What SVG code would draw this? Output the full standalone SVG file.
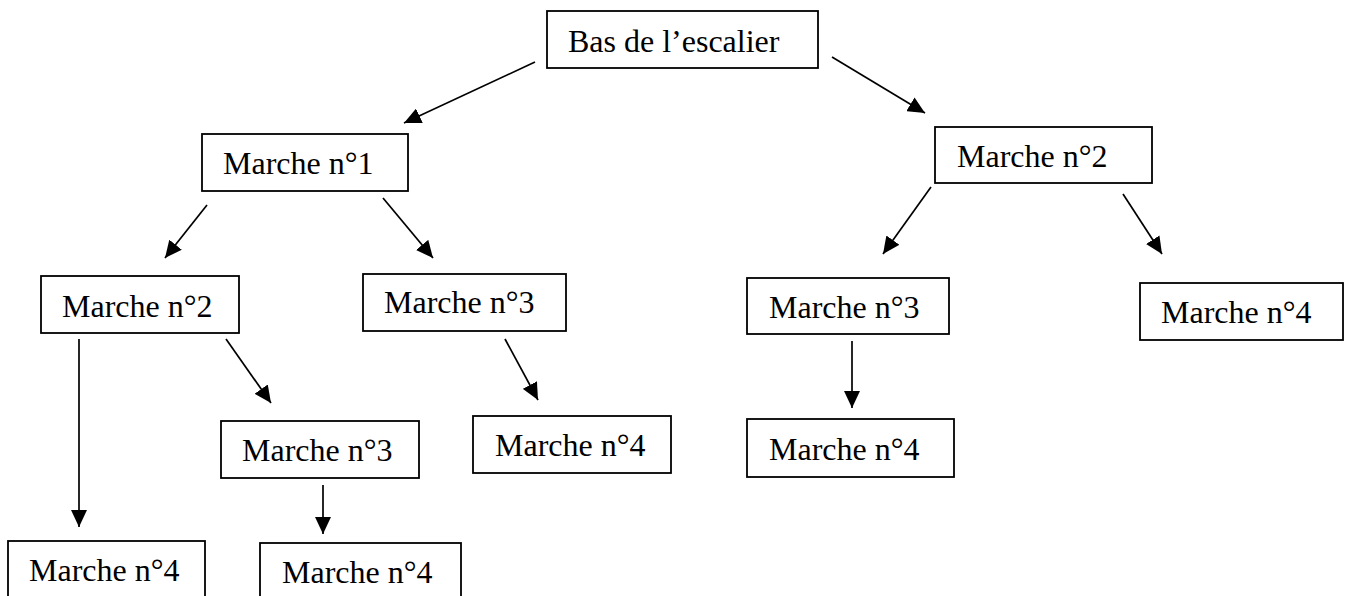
<svg xmlns="http://www.w3.org/2000/svg" width="1350" height="596" viewBox="0 0 1350 596">
<style>
.box{fill:#fff;stroke:#000;stroke-width:1.8}
.lbl{font-family:"Liberation Serif","Times New Roman",serif;font-size:32px;fill:#000}
.con{stroke:#000;stroke-width:1.7;fill:none;marker-end:url(#ah)}
</style>
<defs>
<marker id="ah" markerUnits="userSpaceOnUse" markerWidth="17" markerHeight="16" refX="17" refY="8" orient="auto">
<path d="M0,0 L17,8 L0,16 z" fill="#000"/>
</marker>
</defs>
<rect width="1350" height="596" fill="#fff"/>
<g id="connectors">
<line class="con" x1="535" y1="62" x2="404" y2="123"/>
<line class="con" x1="832" y1="57" x2="925" y2="113"/>
<line class="con" x1="207" y1="205" x2="165" y2="258"/>
<line class="con" x1="383" y1="198" x2="433" y2="258"/>
<line class="con" x1="79" y1="339" x2="79" y2="527"/>
<line class="con" x1="226" y1="339" x2="271" y2="403"/>
<line class="con" x1="323" y1="485" x2="323" y2="534"/>
<line class="con" x1="505" y1="339" x2="538" y2="400"/>
<line class="con" x1="931" y1="187" x2="883" y2="254"/>
<line class="con" x1="1123" y1="194" x2="1162" y2="254"/>
<line class="con" x1="852" y1="341" x2="852" y2="408"/>
</g>
<g id="bas"><rect class="box" x="547" y="11" width="271" height="57"/><text class="lbl" x="568" y="52">Bas de l’escalier</text></g>
<g id="m1"><rect class="box" x="202" y="134" width="206" height="57"/><text class="lbl" x="223" y="174">Marche n°1</text></g>
<g id="m2a"><rect class="box" x="41" y="276" width="198" height="57"/><text class="lbl" x="62" y="317">Marche n°2</text></g>
<g id="m3a"><rect class="box" x="363" y="274" width="203" height="57"/><text class="lbl" x="384" y="313">Marche n°3</text></g>
<g id="m3b"><rect class="box" x="221" y="421" width="198" height="57"/><text class="lbl" x="242" y="461">Marche n°3</text></g>
<g id="m4a"><rect class="box" x="8" y="541" width="197" height="62"/><text class="lbl" x="29" y="581">Marche n°4</text></g>
<g id="m4b"><rect class="box" x="260" y="543" width="201" height="62"/><text class="lbl" x="282" y="583">Marche n°4</text></g>
<g id="m4c"><rect class="box" x="473" y="416" width="198" height="57"/><text class="lbl" x="495" y="456">Marche n°4</text></g>
<g id="m2b"><rect class="box" x="935" y="127" width="217" height="56"/><text class="lbl" x="957" y="167">Marche n°2</text></g>
<g id="m3c"><rect class="box" x="747" y="278" width="202" height="56"/><text class="lbl" x="769" y="318">Marche n°3</text></g>
<g id="m4d"><rect class="box" x="747" y="419" width="207" height="58"/><text class="lbl" x="769" y="460">Marche n°4</text></g>
<g id="m4e"><rect class="box" x="1140" y="283" width="203" height="57"/><text class="lbl" x="1161" y="323">Marche n°4</text></g>
</svg>
